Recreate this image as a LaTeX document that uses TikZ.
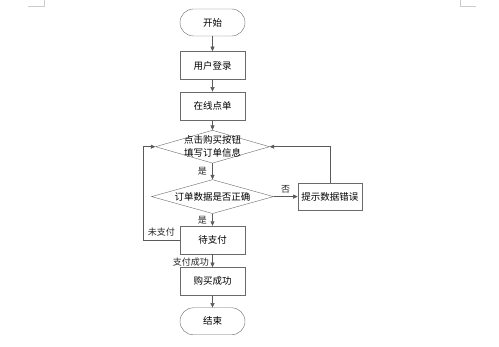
\documentclass[tikz,border=0pt]{standalone}
\usepackage{fontspec}
\newfontfamily\cjk{Noto Sans CJK SC}
\usepackage{tikz}
\usetikzlibrary{arrows.meta,positioning,shapes.geometric}
\definecolor{edgegray}{HTML}{5A5A5A}
\definecolor{boxgray}{HTML}{6A6A6A}
\definecolor{markgray}{HTML}{CCCCCC}
\tikzset{
  terminal/.style={
    draw=boxgray,
    rounded corners=13.5pt,
    fill=white,
    font=\cjk\fontsize{9.5}{12}\selectfont,
    minimum height=27pt,
    minimum width=65pt,
    inner sep=2pt
  },
  block/.style={
    draw=boxgray,
    fill=white,
    align=center,
    font=\cjk\fontsize{9.5}{12}\selectfont,
    minimum height=28pt,
    minimum width=65pt,
    inner xsep=3pt
  },
  decision/.style={
    diamond,
    draw=boxgray,
    fill=white,
    align=center,
    font=\cjk\fontsize{9.5}{12.7}\selectfont,
    inner xsep=-20pt,
    inner ysep=-6pt
  },
  line/.style={-{Triangle[length=4.5pt,width=4pt]}, semithick, draw=edgegray},
  smallnote/.style={font=\cjk\fontsize{9}{11}\selectfont, text=black!85}
}
\begin{document}
\begin{tikzpicture}[node distance=12pt]
\useasboundingbox (0,0) rectangle (499pt,-347pt);
% page corner marks
\draw[markgray] (28pt,-6.5pt) -- (44pt,-6.5pt) -- (44pt,0pt);
\draw[markgray] (460pt,0pt) -- (460pt,-6.5pt) -- (476pt,-6.5pt);

\node[terminal] (start) at (212.5pt,-22.5pt) {开始};
\node[block, below=15pt of start] (login) {用户登录};
\node[block, below=of login] (order) {在线点单};
\node[decision, below=10pt of order, minimum width=114pt, minimum height=33pt] (buy) {点击购买按钮\\填写订单信息};
\node[decision, below=16pt of buy, minimum width=122pt, minimum height=34pt] (check) {订单数据是否正确};
\node[block, right=24pt of check, minimum width=64pt, minimum height=27pt] (errmsg) {提示数据错误};
\node[block, below=of check] (pay) {待支付};
\node[block, below=13pt of pay] (done) {购买成功};
\node[terminal, below=of done] (finish) {结束};

\draw[line] (start) -- (login);
\draw[line] (login) -- (order);
\draw[line] (order) -- (buy);
\draw[line] (buy) -- node[smallnote, left, xshift=-2pt] {是} (check);
\draw[line] (check) -- node[smallnote, above] {否} (errmsg);
\draw[line] (errmsg.north) |- (buy.east);
\draw[line] (check) -- node[smallnote, left, xshift=-2pt] {是} (pay);
\draw[line] (pay.west) -- node[smallnote, above] {未支付} ++(-37pt,0) |- (buy.west);
\draw[line] (pay) -- node[smallnote, left, yshift=-1pt] {支付成功} (done);
\draw[line] (done) -- (finish);
\end{tikzpicture}
\end{document}
